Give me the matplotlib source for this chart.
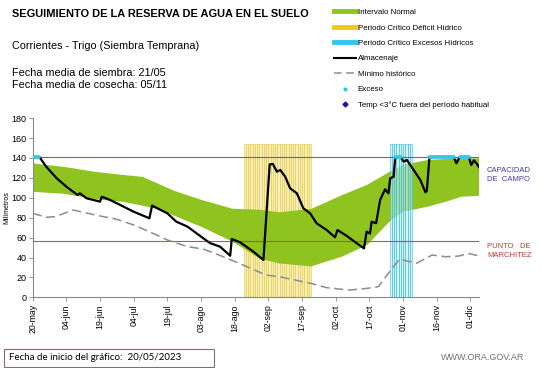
import numpy as np
import matplotlib
matplotlib.use('Agg')
import matplotlib.pyplot as plt
from matplotlib.lines import Line2D
from matplotlib.patches import Rectangle

plt.rcParams['font.family'] = ['Liberation Sans', 'DejaVu Sans']

# days counted from 20-may (start of the chart)
tick_days = [0, 15, 30, 45, 60, 75, 90, 105, 120, 135, 150, 165, 180, 195]
tick_labels = ['20-may', '04-jun', '19-jun', '04-jul', '19-jul', '03-ago', '18-ago',
               '02-sep', '17-sep', '02-oct', '17-oct', '01-nov', '16-nov', '01-dic']

# normal interval (green band)
band_days = [0, 14, 28, 40, 49, 55, 63, 75, 89, 101, 110, 124, 138, 149, 159, 165, 176, 184, 191, 199]
band_upper = [134.5, 131, 126, 123, 121, 115, 107, 98, 89, 88, 85.5, 88.7, 102.8, 113, 126, 133, 138, 139, 139.5, 139.6]
band_lower = [106, 104, 98.5, 96, 92, 89, 82, 71, 56, 39, 34, 31, 41, 52.6, 76, 86, 91, 96, 101, 102]

# minimo historico
min_days = [0, 6, 10, 18, 30, 37, 45, 52, 60, 69, 76, 83, 92, 104, 110, 124, 131, 141, 149, 154,
            159, 163.5, 168, 171, 178, 184, 190, 194, 199]
min_vals = [84.4, 80.4, 81, 87.7, 81.7, 78.7, 72.7, 65.9, 57.6, 50.9, 48.5, 42.5, 34.2, 22.4, 20.7, 14, 9.7, 7.3, 9, 10.7,
            25.7, 38.5, 35.8, 34.2, 42.5, 40.8, 41.5, 44.2, 41.5]

# almacenaje
alm_days = [0, 3, 6, 10.7, 15, 20, 21, 24, 30, 30.8, 34.5, 39, 45, 52, 53.2, 60, 64, 69, 75, 79, 83.5,
            88, 88.7, 92.4, 98.4, 102.8, 105.6, 107, 108.8, 110.3, 112.5, 114.7, 117.7, 120.6, 123.6,
            126.5, 131, 134.7, 135.8, 140, 144.4, 147.6, 148.8, 150.3, 151, 153, 154.8, 157, 158.5,
            159.3, 160.8, 161.5, 162.3, 163.8, 165.3, 166.7, 169.7, 172.7, 175, 175.6, 176.8, 187.5,
            188.8, 190.3, 194.3, 195.4, 196.6, 197.8, 198.8]
alm_vals = [141, 141, 131.3, 119.6, 111.2, 102.8, 104.5, 99.5, 96.1, 101.1, 97.8, 92.8, 86, 79.4, 92.1, 84.4, 76, 71, 61, 54.5, 50.9,
            41.8, 58.6, 55.3, 45.8, 37.5, 133.5, 134, 126.2, 128, 121.2, 109.5, 104.5, 89.4, 84.4,
            74.4, 67.6, 60.3, 67.6, 61.6, 54.3, 49.2, 66, 64, 76, 74.4, 97.8, 108.5, 104.5,
            119.6, 121.2, 139.7, 141, 141, 136.3, 138, 128, 117.9, 105.5, 107, 141, 141,
            134.7, 141, 141, 132.9, 137.6, 134.4, 130.9]

# exceso segments (at field capacity)
exceso_segments = [(0, 3), (161.5, 164), (176.8, 187.5), (190.3, 194.3)]

capacidad = 141
marchitez = 56.5
deficit_days = list(range(94, 124))
excesos_days = list(range(159, 169))
critical_top = 154

fig = plt.figure(figsize=(5.41, 3.68), dpi=100)
ax = fig.add_axes([0.0604, 0.192, 0.8256, 0.487])

green = '#8fc31f'
ax.fill(band_days + band_days[::-1], band_upper + band_lower[::-1], color=green, lw=0, zorder=2)

# deficit stripes sit behind the green band, excesos stripes in front
ax.bar(deficit_days, [critical_top] * len(deficit_days), width=1, align='edge',
       color='#f7e9a0', edgecolor='#e6cc4a', linewidth=0.6, alpha=0.7, zorder=1.5)
ax.bar(excesos_days, [critical_top] * len(excesos_days), width=1, align='edge',
       color='#bdeef7', edgecolor='#2ab8d8', linewidth=0.6, alpha=0.6, zorder=3)

ax.axhline(capacidad, color='#4a6fb5', lw=0.8, zorder=4)
ax.axhline(marchitez, color='#c0504d', lw=0.8, zorder=4)

ax.plot(min_days, min_vals, color='#8c8c8c', lw=1.1, dashes=(6, 3), zorder=5)
ax.plot(alm_days, alm_vals, color='black', lw=1.6, zorder=6)
for a, b in exceso_segments:
  ax.plot([a, b], [capacidad, capacidad], color='#33c5ea', lw=2.6, solid_capstyle='round', zorder=7)

ax.set_xlim(0, 199)
ax.set_ylim(0, 180)
ax.set_yticks(range(0, 181, 20))
ax.set_xticks(tick_days)
ax.set_xticklabels(tick_labels, rotation=90, fontsize=6.3)
ax.tick_params(axis='y', labelsize=6.5, length=3, width=0.6, color='#888888', pad=1.5)
ax.tick_params(axis='x', length=3, width=0.6, color='#888888', pad=2)
for s in ['top', 'right']:
  ax.spines[s].set_visible(False)
for s in ['left', 'bottom']:
  ax.spines[s].set_color('#888888')
  ax.spines[s].set_linewidth(0.8)
ax.set_ylabel('Milímetros', fontsize=5, labelpad=1)

fig.text(487 / 541, 1 - 175 / 368, 'CAPACIDAD\nDE  CAMPO', fontsize=5.5, color='#3b3ba8',
         va='center', ha='left', linespacing=1.3)
fig.text(487 / 541, 1 - 251 / 368, 'PUNTO   DE\nMARCHITEZ', fontsize=5.5, color='#c0392b',
         va='center', ha='left', linespacing=1.3)

# header texts
fig.text(12 / 541, 1 - 14 / 368, 'SEGUIMIENTO DE LA RESERVA DE AGUA EN EL SUELO',
         fontsize=7.9, fontweight='bold', va='center', ha='left')
fig.text(12 / 541, 1 - 46 / 368, 'Corrientes - Trigo (Siembra Temprana)', fontsize=7.8, va='center', ha='left')
fig.text(12 / 541, 1 - 73 / 368, 'Fecha media de siembra: 21/05', fontsize=7.8, va='center', ha='left')
fig.text(12 / 541, 1 - 84.5 / 368, 'Fecha media de cosecha: 05/11', fontsize=7.8, va='center', ha='left')

handles = [
  Line2D([], [], color=green, lw=3.5),
  Line2D([], [], color='#f5c518', lw=3.5),
  Line2D([], [], color='#33c5ea', lw=3.5),
  Line2D([], [], color='black', lw=1.5),
  Line2D([], [], color='#8c8c8c', lw=1.1, dashes=(5, 3)),
  Line2D([], [], color='#33c5ea', lw=0, marker='o', markersize=2),
  Line2D([], [], color='#1a1a9a', lw=0, marker='D', markersize=2.5),
]
labels = ['Intervalo Normal', 'Periodo Crítico Déficit Hídrico', 'Periodo Crítico Excesos Hídricos',
          'Almacenaje', 'Mínimo histórico', 'Exceso', 'Temp <3°C fuera del período habitual']
fig.legend(handles, labels, loc='upper left', bbox_to_anchor=(328 / 541, 1 - 3 / 368),
           frameon=False, fontsize=5.7, labelspacing=1.0, handlelength=2.8, handletextpad=0.25,
           borderpad=0.2)

# footer
fig.patches.append(Rectangle((4 / 541, 1 - 367 / 368), 210 / 541, 18 / 368, transform=fig.transFigure,
                             fill=False, edgecolor='#8a6a6a', lw=0.8))
fig.text(9 / 541, 1 - 358 / 368, 'Fecha de inicio del gráfico:  20/05/2023', fontsize=7,
         family=['Lato', 'DejaVu Sans'], va='center', ha='left')
fig.text(524 / 541, 1 - 358 / 368, 'WWW.ORA.GOV.AR', fontsize=6.5, color='#707070', va='center', ha='right')

fig.savefig('out.png', dpi=100)
